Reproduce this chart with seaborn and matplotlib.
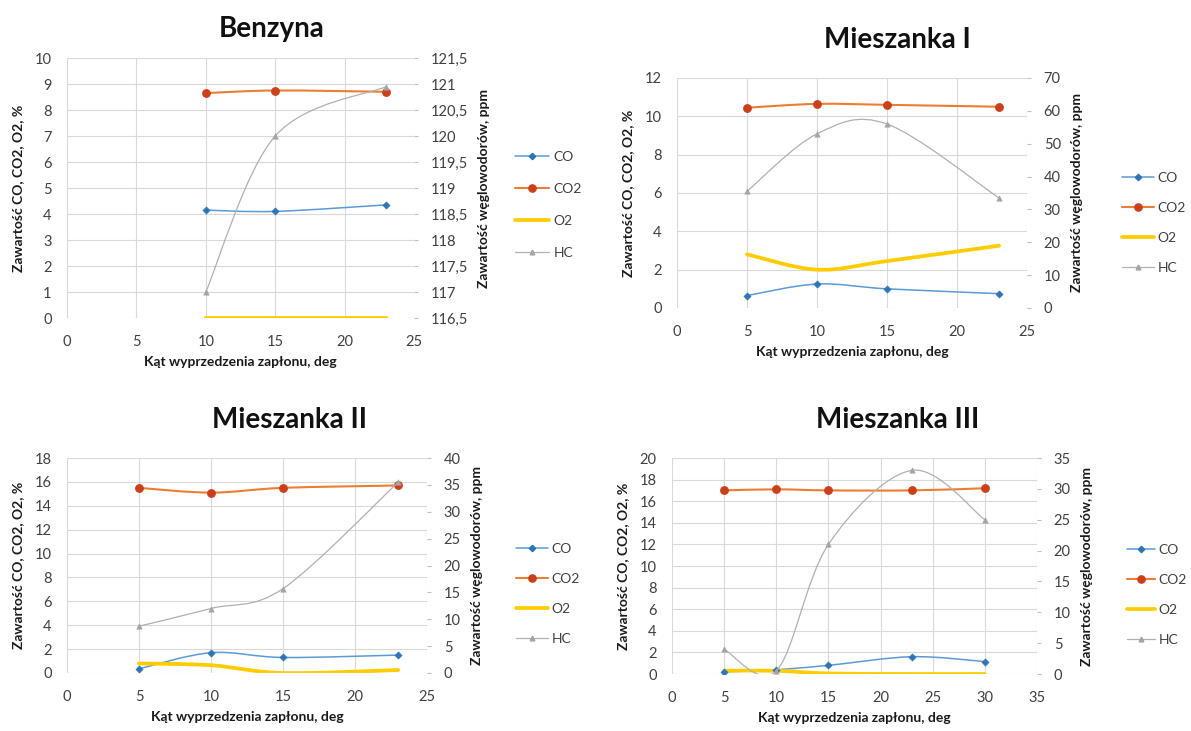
import numpy as np
import matplotlib
matplotlib.use("Agg")
import matplotlib.pyplot as plt
from matplotlib.path import Path
from matplotlib.patches import PathPatch
from matplotlib.lines import Line2D
from matplotlib.ticker import FuncFormatter, MultipleLocator
import seaborn as sns

# -----------------------------
# Data
# -----------------------------
series_names = ["CO", "CO2", "O2", "HC"]

benz_x = [10, 15, 23]
benz_co = [4.15, 4.1, 4.35]
benz_co2 = [8.65, 8.75, 8.7]
benz_o2 = [0.0, 0.0, 0.0]
benz_hc = [117.0, 120.0, 120.95]

m1_x = [5, 10, 15, 23]
m1_co = [0.65, 1.25, 1.0, 0.75]
m1_co2 = [10.45, 10.65, 10.6, 10.5]
m1_o2 = [2.8, 2.0, 2.45, 3.25]
m1_hc = [35.5, 53.0, 56.0, 33.5]

m2_x = [5, 10, 15, 23]
m2_co = [0.35, 1.7, 1.3, 1.5]
m2_co2 = [15.5, 15.1, 15.5, 15.7]
m2_o2 = [0.8, 0.65, 0.0, 0.25]
m2_hc = [8.7, 12.0, 15.7, 35.5]

m3_x = [5, 10, 15, 23, 30]
m3_co = [0.2, 0.4, 0.8, 1.6, 1.15]
m3_co2 = [17.0, 17.1, 17.0, 17.0, 17.2]
m3_o2 = [0.3, 0.3, 0.05, 0.0, 0.0]
m3_hc = [4.0, 0.5, 21.0, 33.0, 25.0]

x_label = "Kąt wyprzedzenia zapłonu, deg"
left_label = "Zawartość CO, CO2, O2, %"
right_label = "Zawartość węglowodorów, ppm"

# -----------------------------
# Styling
# -----------------------------
sns.set_theme(style="whitegrid")
plt.rcParams["font.family"] = ["Lato", "DejaVu Sans"]
plt.rcParams["grid.color"] = "#D9D9D9"
plt.rcParams["grid.linewidth"] = 0.8

styles = {
    "CO": dict(color="#5B9BD5", lw=1.1, marker="D", ms=3.6, mfc="#2E75B6"),
    "CO2": dict(color="#ED7D31", lw=1.5, marker="o", ms=5.8, mfc="#C9401A"),
    "O2": dict(color="#FFCC00", lw=2.7, marker=None, ms=0, mfc=None),
    "HC": dict(color="#B0B0B0", lw=0.9, marker="^", ms=3.8, mfc="#A5A5A5"),
}
tick_color = "#404040"
label_color = "#1A1A1A"


def smooth_path(x, y):
    # Excel-like smoothed line: Catmull-Rom segments as cubic Bezier curves
    pts = np.column_stack([x, y]).astype(float)
    ext = np.vstack([pts[0], pts, pts[-1]])
    verts = [pts[0]]
    codes = [Path.MOVETO]
    for i in range(len(pts) - 1):
        p0, p1, p2, p3 = ext[i], ext[i + 1], ext[i + 2], ext[i + 3]
        verts += [p1 + (p2 - p0) / 6, p2 - (p3 - p1) / 6, p2]
        codes += [Path.CURVE4] * 3
    return Path(verts, codes)


def draw_series(ax, x, y, name):
    st = styles[name]
    ax.add_patch(PathPatch(smooth_path(x, y), fill=False, edgecolor=st["color"],
                           lw=st["lw"], capstyle="round", zorder=2))
    if st["marker"]:
        sns.scatterplot(x=x, y=y, ax=ax, marker=st["marker"], s=st["ms"] ** 2,
                        color=st["mfc"], edgecolor=st["mfc"], linewidth=0.5,
                        zorder=3, legend=False)


def fmt_comma(v, pos):
    return f"{v:g}".replace(".", ",")


def panel(fig, rect, title, title_xy, x, co, co2, o2, hc, xlim, xstep,
          ylim, ystep, hlim, hstep, legend_xy, spacing, hlen):
    ax = fig.add_axes(rect)
    ax2 = ax.twinx()
    for name, vals in zip(["CO", "CO2", "O2"], [co, co2, o2]):
        draw_series(ax, x, vals, name)
    draw_series(ax2, x, hc, "HC")

    ax.set_xlim(*xlim)
    ax.set_ylim(*ylim)
    ax2.set_ylim(*hlim)
    ax.xaxis.set_major_locator(MultipleLocator(xstep))
    ax.yaxis.set_major_locator(MultipleLocator(ystep))
    ax2.yaxis.set_major_locator(MultipleLocator(hstep))
    ax2.yaxis.set_major_formatter(FuncFormatter(fmt_comma))
    ax2.grid(False)
    ax.grid(True, zorder=0)
    for a in (ax, ax2):
        for s in a.spines.values():
            s.set_visible(False)
    ax.tick_params(axis="x", labelsize=10.5, colors=tick_color, length=0, pad=12)
    ax.tick_params(axis="y", labelsize=10.5, colors=tick_color, length=0, pad=11)
    ax2.tick_params(axis="y", labelsize=10.5, colors=tick_color, length=3,
                    width=0.8, pad=9)
    ax2.tick_params(axis="y", color="#BFBFBF")

    ax.set_xlabel(x_label, fontsize=10, fontweight="bold", color=label_color, labelpad=5)
    ax.set_ylabel(left_label, fontsize=10, fontweight="bold", color=label_color, labelpad=8)
    ax2.set_ylabel(right_label, fontsize=10, fontweight="bold", color=label_color, labelpad=7)

    fig.text(title_xy[0], title_xy[1], title, ha="center", va="center",
             fontsize=20, fontweight="bold", color="#111111")

    handles = []
    for name in series_names:
        st = styles[name]
        handles.append(Line2D([0], [0], color=st["color"], lw=st["lw"],
                              marker=st["marker"], markersize=st["ms"] * 0.9,
                              markerfacecolor=st["mfc"], markeredgecolor=st["mfc"]))
    ax2.legend(handles, series_names, loc="center left",
               bbox_to_anchor=legend_xy, bbox_transform=fig.transFigure,
               frameon=False, fontsize=10, handlelength=hlen, labelspacing=spacing,
               handletextpad=0.3, labelcolor=tick_color, borderpad=0.2)
    return ax, ax2


W, H = 1191, 731
fig = plt.figure(figsize=(W / 100, H / 100), dpi=100)


def rect_px(x0, x1, y_top, y_bot):
    return [x0 / W, 1 - y_bot / H, (x1 - x0) / W, (y_bot - y_top) / H]


panel(fig, rect_px(67, 414, 58, 318), "Benzyna", (272 / W, 1 - 29 / H),
      benz_x, benz_co, benz_co2, benz_o2, benz_hc,
      (0, 25), 5, (0, 10), 1, (116.5, 121.5), 0.5, (505 / W, 1 - 205 / H), 1.45, 2.5)

panel(fig, rect_px(677, 1027, 78, 308), "Mieszanka I", (897 / W, 1 - 40 / H),
      m1_x, m1_co, m1_co2, m1_o2, m1_hc,
      (0, 25), 5, (0, 12), 2, (0, 70), 10, (1112 / W, 1 - 223 / H), 1.3, 2.3)

panel(fig, rect_px(67, 427, 458, 673), "Mieszanka II", (289 / W, 1 - 420 / H),
      m2_x, m2_co, m2_co2, m2_o2, m2_hc,
      (0, 25), 5, (0, 18), 2, (0, 40), 5, (506 / W, 1 - 594 / H), 1.3, 2.3)

panel(fig, rect_px(672, 1037, 458, 674), "Mieszanka III", (898 / W, 1 - 420 / H),
      m3_x, m3_co, m3_co2, m3_o2, m3_hc,
      (0, 35), 5, (0, 20), 2, (0, 35), 5, (1117 / W, 1 - 595 / H), 1.3, 2.0)

fig.savefig("out.png", dpi=100)
